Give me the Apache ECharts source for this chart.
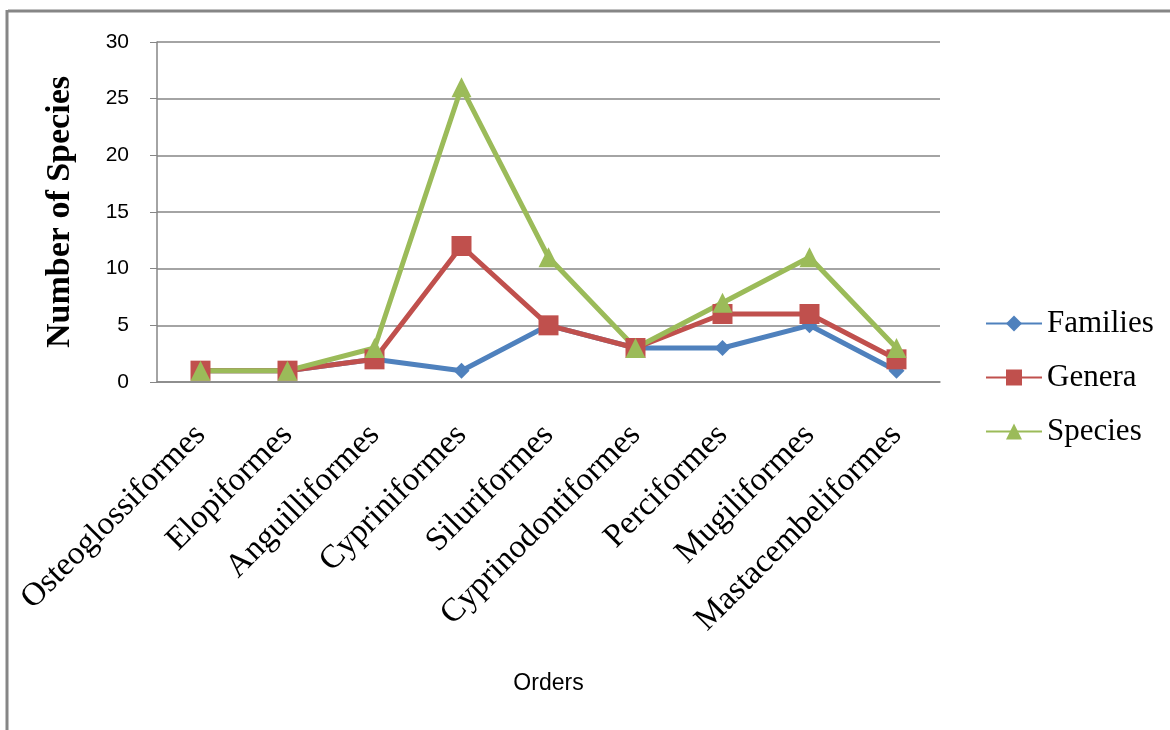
<!DOCTYPE html>
<html>
<head>
<meta charset="utf-8">
<script src="https://cdn.jsdelivr.net/npm/echarts@6/dist/echarts.min.js"></script>
<style>
  html, body { margin: 0; padding: 0; background: #fff; }
  #chart { width: 1170px; height: 730px; }
</style>
</head>
<body>
<div id="chart"></div>
<script>
// data
var orders = ['Osteoglossiformes', 'Elopiformes', 'Anguilliformes', 'Cypriniformes',
  'Siluriformes', 'Cyprinodontiformes', 'Perciformes', 'Mugiliformes', 'Mastacembeliformes'];
var families = [1, 1, 2, 1, 5, 3, 3, 5, 1];
var genera = [1, 1, 2, 12, 5, 3, 6, 6, 2];
var species = [1, 1, 3, 26, 11, 3, 7, 11, 3];

var axisGray = '#868686';

var chart = echarts.init(document.getElementById('chart'));
chart.setOption({
  animation: false,
  backgroundColor: '#fff',
  grid: { left: 157, right: 230, top: 42, bottom: 348 },
  legend: {
    orient: 'vertical',
    left: 980,
    top: 303,
    itemWidth: 56,
    itemHeight: 20,
    itemGap: 23,
    textStyle: { fontFamily: 'Liberation Serif', fontSize: 31, color: '#000' },
    data: ['Families', 'Genera', 'Species']
  },
  xAxis: {
    type: 'category',
    data: orders,
    name: 'Orders',
    nameLocation: 'middle',
    nameGap: 290,
    nameTextStyle: { fontFamily: 'Liberation Sans', fontSize: 23, color: '#000' },
    axisLine: { lineStyle: { color: axisGray, width: 1.5 } },
    axisTick: { length: 10, lineStyle: { color: axisGray } },
    axisLabel: {
      rotate: 45,
      interval: 0,
      margin: 48,
      fontFamily: 'Liberation Serif',
      fontSize: 33,
      color: '#000'
    }
  },
  yAxis: {
    type: 'value',
    min: 0,
    max: 30,
    interval: 5,
    name: 'Number of Species',
    nameLocation: 'middle',
    nameGap: 80,
    nameTextStyle: { fontFamily: 'Liberation Serif', fontSize: 34, fontWeight: 'bold', color: '#000' },
    axisLine: { show: true, lineStyle: { color: axisGray, width: 1.5 } },
    axisTick: { show: true, length: 7, lineStyle: { color: axisGray } },
    axisLabel: { margin: 28, fontFamily: 'Liberation Sans', fontSize: 21, color: '#000' },
    splitLine: { lineStyle: { color: axisGray, width: 1.5 } }
  },
  series: [
    {
      name: 'Families', type: 'line', data: families,
      symbol: 'diamond', symbolSize: 16,
      lineStyle: { width: 5, color: '#4F81BD' },
      itemStyle: { color: '#4F81BD' }
    },
    {
      name: 'Genera', type: 'line', data: genera,
      symbol: 'rect', symbolSize: 20,
      lineStyle: { width: 5, color: '#C0504D' },
      itemStyle: { color: '#C0504D' }
    },
    {
      name: 'Species', type: 'line', data: species,
      symbol: 'triangle', symbolSize: 20,
      lineStyle: { width: 5, color: '#9BBB59' },
      itemStyle: { color: '#9BBB59' }
    }
  ],
  graphic: [
    { type: 'line', shape: { x1: 8, y1: 11, x2: 1170, y2: 11 }, style: { stroke: axisGray, lineWidth: 3 } },
    { type: 'line', shape: { x1: 7, y1: 10, x2: 7, y2: 730 }, style: { stroke: axisGray, lineWidth: 3 } }
  ]
});
</script>
</body>
</html>
